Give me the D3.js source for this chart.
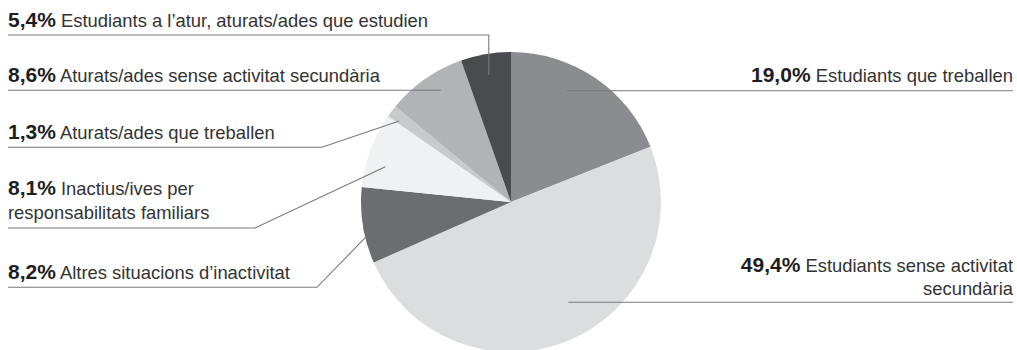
<!DOCTYPE html>
<html>
<head>
<meta charset="utf-8">
<script src="https://cdn.jsdelivr.net/npm/d3@7"></script>
<style>
  html, body { margin: 0; padding: 0; background: #ffffff; }
  svg { display: block; }
  .pct { font-family: "Liberation Sans", Arial, sans-serif; font-weight: 700; fill: #1e1e1e; }
  .txt { font-family: "Liberation Sans", Arial, sans-serif; font-weight: 400; fill: #333333; }
  .leader { fill: none; stroke: #7a7a7a; stroke-width: 1.1; }
</style>
</head>
<body>
<div id="chart"></div>
<script>
// Data: share of young people by study / work situation (clockwise from 12 o'clock)
const categories = [
  "Estudiants que treballen",
  "Estudiants sense activitat secundària",
  "Altres situacions d’inactivitat",
  "Inactius/ives per responsabilitats familiars",
  "Aturats/ades que treballen",
  "Aturats/ades sense activitat secundària",
  "Estudiants a l’atur, aturats/ades que estudien"
];
const values = [19.0, 49.4, 8.2, 8.1, 1.3, 8.6, 5.4];
const valueLabels = ["19,0%", "49,4%", "8,2%", "8,1%", "1,3%", "8,6%", "5,4%"];
// Label text split in lines as printed
const labelLines = [
  ["Estudiants que treballen"],
  ["Estudiants sense activitat", "secundària"],
  ["Altres situacions d’inactivitat"],
  ["Inactius/ives per", "responsabilitats familiars"],
  ["Aturats/ades que treballen"],
  ["Aturats/ades sense activitat secundària"],
  ["Estudiants a l’atur, aturats/ades que estudien"]
];
const colors = ["#8b8c8f", "#dcdddf", "#6c6d71", "#f0f1f2", "#c9cacc", "#b2b3b6", "#4a4b4f"];

// Layout
const W = 1017, H = 350;
const cx = 511, cy = 202, R = 150;
const leftX = 8, rightX = 1013;
const pctSize = 21, txtSize = 18.4;
// Per-slice label layout: side, first baseline, leader y, elbow x,
// anchor position inside the slice (fraction of angle, fraction of radius)
const labelLayout = [
  { side: "right", base: 81.7,  lineY: null,  elbowX: null, t: 0.39, rf: 0.83 },
  { side: "right", base: 271.7, lineY: null,  elbowX: null, t: 0.46, rf: 0.77 },
  { side: "left",  base: 279,   lineY: 287.3, elbowX: 317,  t: 0.34, rf: 1.0 },
  { side: "left",  base: 195,   lineY: 228,   elbowX: 255,  t: 0.34, rf: 0.87 },
  { side: "left",  base: 139,   lineY: 147.3, elbowX: 322,  t: 0.22, rf: 0.92 },
  { side: "left",  base: 81.7,  lineY: null,  elbowX: null, t: 0.59, rf: 0.88 },
  { side: "left",  base: 27,    lineY: 35,    elbowX: "v",  t: 0.49, rf: 0.86 }
];
const lineGap = 23.5;

const svg = d3.select("#chart").append("svg")
  .attr("width", W).attr("height", H);

const pie = d3.pie().sort(null).value(d => d)
  .startAngle(0).endAngle(2 * Math.PI);
const arcs = pie(values);
const arc = d3.arc().innerRadius(0).outerRadius(R);

const g = svg.append("g").attr("transform", `translate(${cx},${cy})`);
g.selectAll("path.slice").data(arcs).enter().append("path")
  .attr("class", "slice")
  .attr("d", arc)
  .attr("fill", (d, i) => colors[i]);

// Point inside slice i used as the leader anchor
function anchor(i) {
  const a = arcs[i], L = labelLayout[i];
  const ang = a.startAngle + L.t * (a.endAngle - a.startAngle);
  const r = L.rf * R;
  return [cx + r * Math.sin(ang), cy - r * Math.cos(ang)];
}

const lines = svg.append("g");
const labels = svg.append("g");

arcs.forEach((a, i) => {
  const L = labelLayout[i];
  const [ax, ay] = anchor(i);
  let pts;
  if (L.side === "right") {
    pts = [[ax, ay], [rightX, ay]];
  } else if (L.lineY === null) {
    pts = [[leftX, ay], [ax, ay]];
  } else if (L.elbowX === "v") {
    pts = [[leftX, L.lineY], [ax, L.lineY], [ax, ay]];
  } else {
    pts = [[leftX, L.lineY], [L.elbowX, L.lineY], [ax, ay]];
  }
  lines.append("path").attr("class", "leader").attr("d", d3.line()(pts));

  const textLines = labelLines[i];
  const x = L.side === "left" ? leftX : rightX;
  const anchorMode = L.side === "left" ? "start" : "end";
  const t = labels.append("text").attr("x", x).attr("y", L.base)
    .attr("text-anchor", anchorMode);
  t.append("tspan").attr("class", "pct").attr("font-size", pctSize).text(valueLabels[i]);
  t.append("tspan").attr("class", "txt").attr("font-size", txtSize).text(" " + textLines[0]);
  for (let k = 1; k < textLines.length; k++) {
    labels.append("text").attr("class", "txt").attr("font-size", txtSize)
      .attr("text-anchor", anchorMode)
      .attr("x", x).attr("y", L.base + k * lineGap).text(textLines[k]);
  }
});
</script>
</body>
</html>
